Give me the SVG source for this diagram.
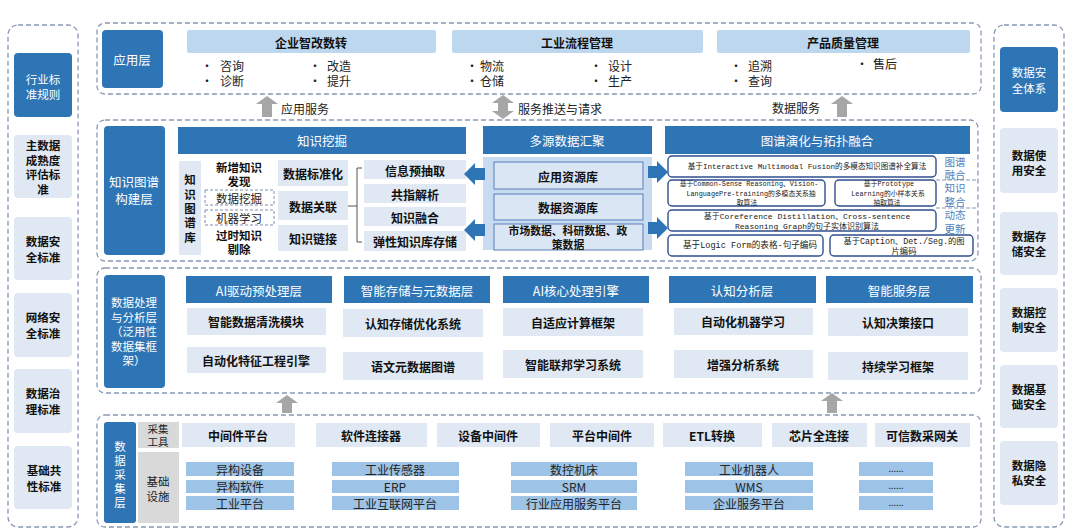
<svg xmlns="http://www.w3.org/2000/svg" width="1080" height="530" viewBox="0 0 1080 530">
<defs>
<style>
.dash{fill:none;stroke:#8a98b4;stroke-width:1.3;stroke-dasharray:5 3}
.dk{fill:#2e75b6}
.lt{fill:#dfe8f3}
.hd{fill:#bdd7ee}
.inf{fill:#9dc3e6}
.gr{fill:#d9d9d9}
.t{font-family:"Noto Sans CJK SC","Noto Sans",sans-serif;font-size:12px;text-anchor:middle;dominant-baseline:central;fill:#111}
.s{text-anchor:start}
.w{fill:#fff;font-size:12.5px}
.st{font-size:11.5px}
.b{font-weight:bold}
.r{font-weight:normal;fill:#222}
.alg{fill:#fff;stroke:#2f4f8f;stroke-width:1.4}
.sm{font-family:"Liberation Mono","Noto Sans CJK SC",monospace;font-size:7.6px;font-weight:normal;fill:#222}
.side{fill:#4f81bd;font-size:10.5px}
.dbox{fill:#fff;stroke:#7f8fb0;stroke-width:1;stroke-dasharray:3 2}
.ga{fill:#a6a6a6}
.ba{fill:#2e75b6}
.src{fill:#dbe6f4;stroke:#5b7fb8;stroke-width:1}
</style>
</defs>

<!-- Left column: industry standards -->
<g id="left-col">
<rect class="dash" x="8" y="25" width="70" height="502" rx="10"/>
<g id="std-rule"><rect class="dk" x="14" y="53" width="58" height="64" rx="4"/><text class="t w st" x="43" y="79">行业标</text><text class="t w st" x="43" y="94">准规则</text></g>
<g id="std-master"><rect class="lt" x="14" y="135" width="58" height="63" rx="4"/><text class="t b st" x="43" y="145">主数据</text><text class="t b st" x="43" y="159.5">成熟度</text><text class="t b st" x="43" y="174">评估标</text><text class="t b st" x="43" y="188.5">准</text></g>
<g id="std-datasec"><rect class="lt" x="14" y="217" width="58" height="63" rx="4"/><text class="t b st" x="43" y="241">数据安</text><text class="t b st" x="43" y="257">全标准</text></g>
<g id="std-netsec"><rect class="lt" x="14" y="293" width="58" height="64" rx="4"/><text class="t b st" x="43" y="317">网络安</text><text class="t b st" x="43" y="333">全标准</text></g>
<g id="std-gov"><rect class="lt" x="14" y="369" width="58" height="64" rx="4"/><text class="t b st" x="43" y="393">数据治</text><text class="t b st" x="43" y="409">理标准</text></g>
<g id="std-base"><rect class="lt" x="14" y="446" width="58" height="63" rx="4"/><text class="t b st" x="44" y="470">基础共</text><text class="t b st" x="44" y="486">性标准</text></g>
</g>

<!-- Right column: data security -->
<g id="right-col">
<rect class="dash" x="994" y="25" width="70" height="502" rx="10"/>
<g id="sec-sys"><rect class="dk" x="1000" y="47" width="58" height="65" rx="4"/><text class="t w st" x="1029" y="72">数据安</text><text class="t w st" x="1029" y="88">全体系</text></g>
<g id="sec-use"><rect class="lt" x="1000" y="128" width="58" height="65" rx="4"/><text class="t b st" x="1029" y="155">数据使</text><text class="t b st" x="1029" y="170">用安全</text></g>
<g id="sec-store"><rect class="lt" x="1000" y="212" width="58" height="63" rx="4"/><text class="t b st" x="1029" y="236">数据存</text><text class="t b st" x="1029" y="251">储安全</text></g>
<g id="sec-ctrl"><rect class="lt" x="1000" y="288" width="58" height="64" rx="4"/><text class="t b st" x="1029" y="312">数据控</text><text class="t b st" x="1029" y="327">制安全</text></g>
<g id="sec-base"><rect class="lt" x="1000" y="365" width="58" height="63" rx="4"/><text class="t b st" x="1029" y="389">数据基</text><text class="t b st" x="1029" y="404">础安全</text></g>
<g id="sec-priv"><rect class="lt" x="1000" y="441" width="58" height="64" rx="4"/><text class="t b st" x="1029" y="465">数据隐</text><text class="t b st" x="1029" y="480">私安全</text></g>
</g>

<!-- Application layer -->
<g id="app-layer">
<rect class="dash" x="97" y="23" width="884" height="71" rx="8"/>
<rect class="dk" x="102" y="30" width="61" height="58" rx="4"/><text class="t w" x="132" y="59">应用层</text>
<g id="app-1"><rect class="hd" x="187" y="30" width="249" height="23" rx="2"/><text class="t b" x="311" y="42">企业智改数转</text>
<text class="t s r" x="201" y="65">•</text><text class="t s r" x="220" y="65">咨询</text>
<text class="t s r" x="201" y="80">•</text><text class="t s r" x="220" y="80">诊断</text>
<text class="t s r" x="309" y="65">•</text><text class="t s r" x="327" y="65">改造</text>
<text class="t s r" x="309" y="80">•</text><text class="t s r" x="327" y="80">提升</text></g>
<g id="app-2"><rect class="hd" x="452" y="30" width="251" height="23" rx="2"/><text class="t b" x="577" y="42">工业流程管理</text>
<text class="t s r" x="466" y="65">•</text><text class="t s r" x="480" y="65">物流</text>
<text class="t s r" x="466" y="80">•</text><text class="t s r" x="480" y="80">仓储</text>
<text class="t s r" x="590" y="65">•</text><text class="t s r" x="608" y="65">设计</text>
<text class="t s r" x="590" y="80">•</text><text class="t s r" x="608" y="80">生产</text></g>
<g id="app-3"><rect class="hd" x="717" y="30" width="253" height="23" rx="2"/><text class="t b" x="843" y="42">产品质量管理</text>
<text class="t s r" x="730" y="65">•</text><text class="t s r" x="748" y="65">追溯</text>
<text class="t s r" x="730" y="80">•</text><text class="t s r" x="748" y="80">查询</text>
<text class="t s r" x="856" y="63">•</text><text class="t s r" x="873" y="63">售后</text></g>
</g>

<!-- Knowledge graph construction layer -->
<g id="kg-layer">
<rect class="dash" x="97" y="120" width="881" height="141" rx="8"/>
<rect class="dk" x="104" y="126" width="61" height="129" rx="4"/><text class="t w" x="134" y="181">知识图谱</text><text class="t w" x="134" y="198">构建层</text>
</g>
<g id="kg-mining">
<rect class="dk" x="178" y="127" width="288" height="27"/><text class="t w" x="322" y="140">知识挖掘</text>
<rect class="lt" x="179" y="161" width="22" height="94"/>
<text class="t b st" x="190" y="179">知</text><text class="t b st" x="190" y="193.5">识</text><text class="t b st" x="190" y="208">图</text><text class="t b st" x="190" y="222">谱</text><text class="t b st" x="190" y="236.5">库</text>
<text class="t b st" x="239" y="167">新增知识</text><text class="t b st" x="239" y="181">发现</text>
<rect class="dbox" x="205" y="190" width="69" height="15"/><text class="t r st" x="239" y="198">数据挖掘</text>
<rect class="dbox" x="205" y="210" width="69" height="15"/><text class="t r st" x="239" y="218">机器学习</text>
<text class="t b st" x="239" y="235">过时知识</text><text class="t b st" x="239" y="249">剔除</text>
<rect class="lt" x="278" y="160" width="70" height="26"/><text class="t b" x="313" y="173">数据标准化</text>
<rect class="lt" x="278" y="191" width="70" height="29"/><text class="t b" x="313" y="206">数据关联</text>
<rect class="lt" x="278" y="225" width="70" height="26"/><text class="t b" x="313" y="238">知识链接</text>
<path d="M348,206 H357 M362,168 H357 V242 H362" fill="none" stroke="#555" stroke-width="1"/>
<rect class="lt" x="364" y="160" width="102" height="19"/><text class="t b" x="415" y="170">信息预抽取</text>
<rect class="lt" x="364" y="184" width="102" height="19"/><text class="t b" x="415" y="194">共指解析</text>
<rect class="lt" x="364" y="207" width="102" height="19"/><text class="t b" x="415" y="217">知识融合</text>
<rect class="lt" x="364" y="231" width="102" height="20"/><text class="t b" x="415" y="241">弹性知识库存储</text>
</g>
<g id="kg-sources">
<rect class="dk" x="483" y="126" width="169" height="28"/><text class="t w" x="567" y="140">多源数据汇聚</text>
<rect fill="#c9dbf0" x="483" y="157" width="169" height="93"/>
<rect class="src" x="494" y="162" width="149" height="27"/><text class="t b" x="568" y="176">应用资源库</text>
<rect class="src" x="494" y="194" width="149" height="26"/><text class="t b" x="568" y="207">数据资源库</text>
<rect class="src" x="494" y="224" width="149" height="26"/><text class="t b" x="568" y="229.5" style="font-size:10.8px">市场数据、科研数据、政</text><text class="t b" x="568" y="243.5" style="font-size:10.8px">策数据</text>
</g>
<g id="kg-evolution">
<rect class="dk" x="665" y="126" width="305" height="28"/><text class="t w" x="817" y="140">图谱演化与拓扑融合</text>
<rect class="alg" x="668" y="156" width="268" height="21" rx="4"/><text class="t sm" x="807" y="166.5">基于Interactive Multimodal Fusion的多模态知识图谱补全算法</text>
<rect class="alg" x="668" y="180" width="157" height="26" rx="4"/><text class="t sm" x="749" y="184" style="font-size:6.8px">基于Common-Sense Reasoning、Vision-</text><text class="t sm" x="751" y="194" style="font-size:6.8px">LanguagePre-training的多模态关系抽</text><text class="t sm" x="747" y="203" style="font-size:6.8px">取算法</text>
<rect class="alg" x="835" y="180" width="101" height="26" rx="4"/><text class="t sm" x="889" y="184" style="font-size:6.8px">基于Prototype</text><text class="t sm" x="888" y="194" style="font-size:6.8px">Learning的小样本关系</text><text class="t sm" x="887" y="203" style="font-size:6.8px">抽取算法</text>
<rect class="alg" x="668" y="210" width="268" height="21" rx="4"/><text class="t sm" x="807" y="216" style="font-size:8px">基于Coreference Distillation、Cross-sentence</text><text class="t sm" x="807" y="226" style="font-size:8px">Reasoning Graph的句子实体识别算法</text>
<rect class="alg" x="668" y="235" width="155" height="21" rx="4"/><text class="t sm" x="750" y="246" style="font-size:8.6px">基于Logic Form的表格-句子编码</text>
<rect class="alg" x="830" y="235" width="143" height="21" rx="4"/><text class="t sm" x="904" y="241" style="font-size:8.3px">基于Caption、Det./Seg.的图</text><text class="t sm" x="904" y="251" style="font-size:8.3px">片编码</text>
<text class="t side" x="955" y="161">图谱</text><text class="t side" x="955" y="174.5">融合</text>
<text class="t side" x="955" y="187.5">知识</text><text class="t side" x="955" y="201">整合</text>
<text class="t side" x="955" y="214.5">动态</text><text class="t side" x="955" y="228">更新</text>
<path d="M936,180 H978 M936,208 H978" stroke="#8a98b4" stroke-width="1" stroke-dasharray="4 2" fill="none"/>
</g>

<!-- Data processing layer -->
<g id="proc-layer">
<rect class="dash" x="97" y="268" width="884" height="125" rx="8"/>
<rect class="dk" x="104" y="275" width="61" height="113" rx="4"/>
<text class="t w st" x="134" y="302">数据处理</text><text class="t w st" x="134" y="316.5">与分析层</text><text class="t w st" x="134" y="331">（泛用性</text><text class="t w st" x="134" y="345.5">数据集框</text><text class="t w st" x="134" y="360">架）</text>
</g>
<g id="proc-ai-pre"><rect class="dk" x="186" y="276" width="146" height="27"/><text class="t w" x="259" y="290">AI驱动预处理层</text>
<rect class="lt" x="187" y="308" width="139" height="27"/><text class="t b" x="256" y="321">智能数据清洗模块</text>
<rect class="lt" x="187" y="347" width="139" height="26"/><text class="t b" x="256" y="360">自动化特征工程引擎</text></g>
<g id="proc-storage"><rect class="dk" x="344" y="276" width="146" height="27"/><text class="t w" x="417" y="290">智能存储与元数据层</text>
<rect class="lt" x="343" y="309" width="140" height="28"/><text class="t b" x="413" y="323">认知存储优化系统</text>
<rect class="lt" x="343" y="352" width="140" height="28"/><text class="t b" x="413" y="366">语文元数据图谱</text></g>
<g id="proc-core"><rect class="dk" x="503" y="276" width="146" height="27"/><text class="t w" x="576" y="290">AI核心处理引擎</text>
<rect class="lt" x="503" y="308" width="140" height="28"/><text class="t b" x="573" y="322">自适应计算框架</text>
<rect class="lt" x="503" y="350" width="140" height="28"/><text class="t b" x="573" y="364">智能联邦学习系统</text></g>
<g id="proc-cog"><rect class="dk" x="669" y="276" width="147" height="27"/><text class="t w" x="742" y="290">认知分析层</text>
<rect class="lt" x="674" y="308" width="139" height="27"/><text class="t b" x="743" y="321">自动化机器学习</text>
<rect class="lt" x="674" y="350" width="139" height="28"/><text class="t b" x="743" y="364">增强分析系统</text></g>
<g id="proc-service"><rect class="dk" x="826" y="276" width="147" height="27"/><text class="t w" x="899" y="290">智能服务层</text>
<rect class="lt" x="828" y="308" width="140" height="28"/><text class="t b" x="898" y="322">认知决策接口</text>
<rect class="lt" x="828" y="352" width="140" height="28"/><text class="t b" x="898" y="366">持续学习框架</text></g>

<!-- Data collection layer -->
<g id="collect-layer">
<rect class="dash" x="97" y="415" width="884" height="112" rx="8"/>
<rect class="dk" x="104" y="422" width="32" height="101" rx="3"/>
<text class="t w st" x="120" y="446">数</text><text class="t w st" x="120" y="460">据</text><text class="t w st" x="120" y="474">采</text><text class="t w st" x="120" y="488">集</text><text class="t w st" x="120" y="502">层</text>
<rect class="gr" x="138" y="422" width="41" height="26"/><text class="t r" x="158" y="428.5" style="font-size:10.5px">采集</text><text class="t r" x="158" y="441.5" style="font-size:10.5px">工具</text>
<rect class="gr" x="138" y="452" width="41" height="71"/><text class="t r st" x="158" y="480.5">基础</text><text class="t r st" x="158" y="495.5">设施</text>
</g>
<g id="collect-tools">
<rect class="lt" x="182" y="423" width="113" height="24"/><text class="t b" x="238" y="435">中间件平台</text>
<rect class="lt" x="316" y="423" width="111" height="24"/><text class="t b" x="371" y="435">软件连接器</text>
<rect class="lt" x="437" y="423" width="103" height="24"/><text class="t b" x="488" y="435">设备中间件</text>
<rect class="lt" x="550" y="423" width="104" height="24"/><text class="t b" x="602" y="435">平台中间件</text>
<rect class="lt" x="663" y="423" width="99" height="24"/><text class="t b" x="712" y="435">ETL转换</text>
<rect class="lt" x="772" y="423" width="95" height="24"/><text class="t b" x="819" y="435">芯片全连接</text>
<rect class="lt" x="875" y="423" width="95" height="24"/><text class="t b" x="922" y="435">可信数采网关</text>
</g>
<g id="collect-infra">
<rect class="inf" x="186" y="462" width="108" height="14"/><text class="t r" x="240" y="469">异构设备</text>
<rect class="inf" x="186" y="480" width="108" height="13"/><text class="t r" x="240" y="486.5">异构软件</text>
<rect class="inf" x="186" y="496" width="108" height="14"/><text class="t r" x="240" y="503">工业平台</text>
<rect class="inf" x="332" y="462" width="127" height="14"/><text class="t r" x="395" y="469">工业传感器</text>
<rect class="inf" x="332" y="480" width="127" height="13"/><text class="t r" x="395" y="486.5">ERP</text>
<rect class="inf" x="332" y="496" width="127" height="14"/><text class="t r" x="395" y="503">工业互联网平台</text>
<rect class="inf" x="511" y="462" width="126" height="14"/><text class="t r" x="574" y="469">数控机床</text>
<rect class="inf" x="511" y="480" width="126" height="13"/><text class="t r" x="574" y="486.5">SRM</text>
<rect class="inf" x="511" y="496" width="126" height="14"/><text class="t r" x="574" y="503">行业应用服务平台</text>
<rect class="inf" x="685" y="462" width="128" height="14"/><text class="t r" x="749" y="469">工业机器人</text>
<rect class="inf" x="685" y="480" width="128" height="13"/><text class="t r" x="749" y="486.5">WMS</text>
<rect class="inf" x="685" y="496" width="128" height="14"/><text class="t r" x="749" y="503">企业服务平台</text>
<rect class="inf" x="859" y="462" width="74" height="14"/><text class="t r" x="896" y="468" style="font-size:9px">......</text>
<rect class="inf" x="859" y="480" width="74" height="13"/><text class="t r" x="896" y="485.5" style="font-size:9px">......</text>
<rect class="inf" x="859" y="496" width="74" height="14"/><text class="t r" x="896" y="502" style="font-size:9px">......</text>
</g>

<!-- Connectors -->
<g id="connectors">
<path class="ga" d="M267,96 L278,104 H272 V117 H262 V104 H256 Z"/>
<text class="t s r" x="281" y="108">应用服务</text>
<path class="ga" d="M503,95 L514,103 H508 V111 H514 L503,119 L492,111 H498 V103 H492 Z"/>
<text class="t s r" x="518" y="108">服务推送与请求</text>
<text class="t s r" x="772" y="107">数据服务</text>
<path class="ga" d="M842,96 L853,104 H847 V117 H837 V104 H831 Z"/>
<path class="ba" d="M464,174 L475,163 V168 H485 V180 H475 V185 Z"/>
<path class="ba" d="M464,230 L475,219 V224 H485 V236 H475 V241 Z"/>
<path class="ba" d="M668,172 L657,161 V166 H648 V178 H657 V183 Z"/>
<path class="ba" d="M668,228 L657,217 V222 H648 V234 H657 V239 Z"/>
<path class="ga" d="M287,395 L298,403 H292 V413 H282 V403 H276 Z"/>
<path class="ga" d="M832,393 L843,401 H837 V413 H827 V401 H821 Z"/>
</g>
</svg>
